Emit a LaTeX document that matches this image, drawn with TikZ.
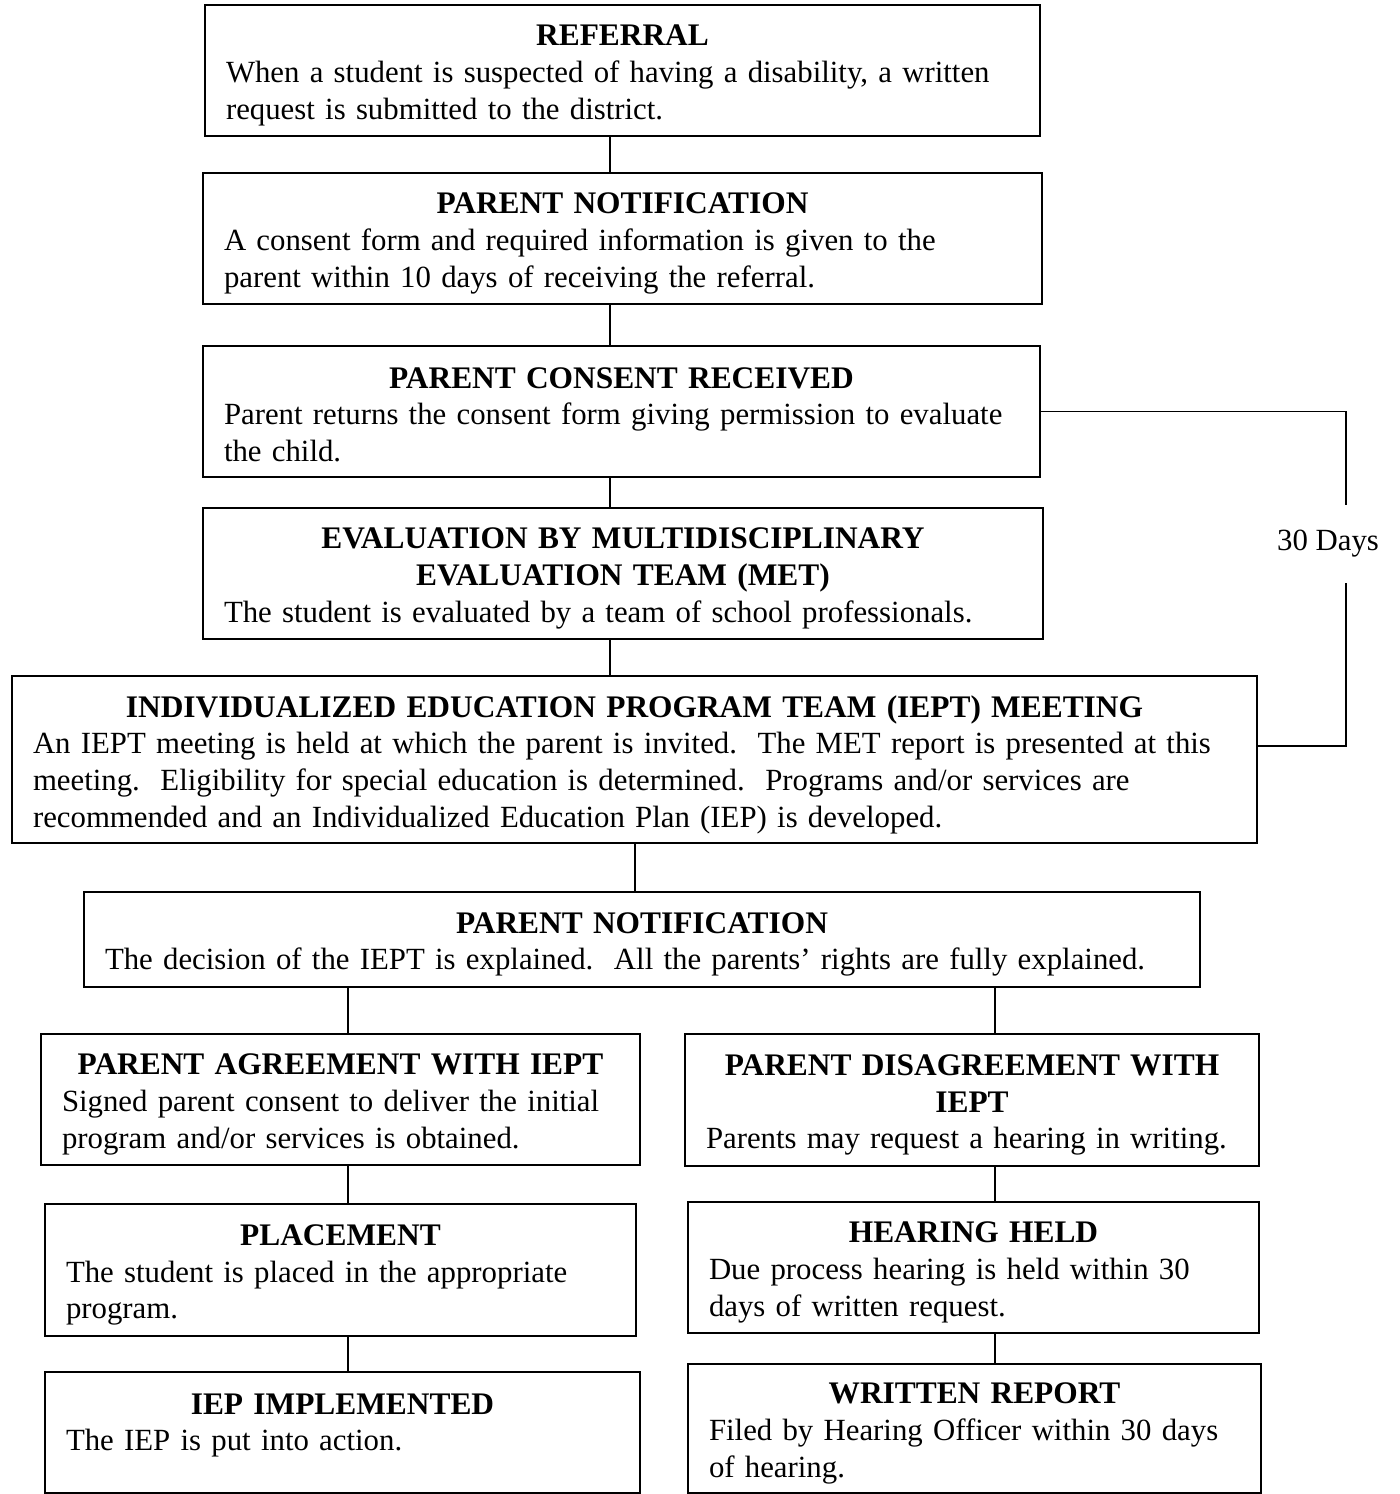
\documentclass[tikz,border=0pt]{standalone}
\usepackage{fontspec}
\setmainfont{Liberation Serif}
\frenchspacing
\newcommand\bx[3][-5pt]{\centering{\fontsize{15.7}{18.3}\selectfont\bfseries #2\par}\raggedright #3\par\vspace{#1}\hrule height 0pt}
\begin{document}
\begin{tikzpicture}[x=0.5pt,y=-0.5pt,
  box/.style={draw, line width=1pt, inner xsep=10.5pt, inner ysep=0pt,
    font=\fontsize{15.4}{18.3}\selectfont},
  conn/.style={line width=0.6pt},
  lbl/.style={font=\fontsize{15.4}{18.3}\selectfont, inner sep=0pt}]
\useasboundingbox (0,0) rectangle (1399,1494);

\node[box, minimum width=417.5pt, minimum height=65.5pt, text width=396.5pt] (ref) at (622.5,70.5)
  {\bx{REFERRAL}{When a student is suspected of having a disability, a written\\request is submitted to the district.}};
\node[box, minimum width=419.5pt, minimum height=65.5pt, text width=398.5pt] (pn1) at (622.5,238.5)
  {\bx{PARENT NOTIFICATION}{A consent form and required information is given to the\\parent within 10 days of receiving the referral.}};
\node[box, minimum width=418.5pt, minimum height=65.5pt, text width=397.5pt] (pcr) at (621.5,411.5)
  {\bx[-3pt]{PARENT CONSENT RECEIVED}{Parent returns the consent form giving permission to evaluate\\the child.}};
\node[box, minimum width=420pt, minimum height=65.5pt, text width=399pt] (eval) at (623,573.5)
  {\bx{EVALUATION BY MULTIDISCIPLINARY\\EVALUATION TEAM (MET)}{The student is evaluated by a team of school professionals.}};
\node[box, minimum width=622.5pt, minimum height=83.5pt, text width=601.5pt] (iept) at (634.5,759.5)
  {\bx{INDIVIDUALIZED EDUCATION PROGRAM TEAM (IEPT) MEETING}{An IEPT meeting is held at which the parent is invited.\ \ The MET report is presented at this\\meeting.\ \ Eligibility for special education is determined.\ \ Programs and/or services are\\recommended and an Individualized Education Plan (IEP) is developed.}};
\node[box, minimum width=558pt, minimum height=47.5pt, text width=537pt] (pn2) at (642,939.5)
  {\bx{PARENT NOTIFICATION}{The decision of the IEPT is explained.\ \ All the parents’ rights are fully explained.}};
\node[box, minimum width=299.5pt, minimum height=65.5pt, text width=278.5pt] (agree) at (340.5,1099.5)
  {\bx{PARENT AGREEMENT WITH IEPT}{Signed parent consent to deliver the initial\\program and/or services is obtained.}};
\node[box, minimum width=287pt, minimum height=66pt, text width=266pt] (disag) at (972,1100)
  {\bx{PARENT DISAGREEMENT WITH\\IEPT}{Parents may request a hearing in writing.}};
\node[box, minimum width=295.5pt, minimum height=66pt, text width=274.5pt] (place) at (340.5,1270)
  {\bx{PLACEMENT}{The student is placed in the appropriate\\program.}};
\node[box, minimum width=285.5pt, minimum height=65.5pt, text width=264.5pt] (hear) at (973.5,1267.5)
  {\bx{HEARING HELD}{Due process hearing is held within 30\\days of written request.}};
\node[box, minimum width=297.5pt, minimum height=60.5pt, text width=276.5pt] (iep) at (342.5,1432.5)
  {\bx[7pt]{IEP IMPLEMENTED}{The IEP is put into action.}};
\node[box, minimum width=286.5pt, minimum height=64.5pt, text width=265.5pt] (wr) at (974.5,1428.5)
  {\bx{WRITTEN REPORT}{Filed by Hearing Officer within 30 days\\of hearing.}};

\node[lbl, minimum height=39pt] (days) at (1328,544) {30 Days};

\coordinate (xa) at (610,0);
\coordinate (xb) at (635,0);
\coordinate (xl) at (348,0);
\coordinate (xr) at (995,0);
\coordinate (xk) at (1346,0);

\draw[conn] (ref.south -| xa) -- (pn1.north -| xa);
\draw[conn] (pn1.south -| xa) -- (pcr.north -| xa);
\draw[conn] (pcr.south -| xa) -- (eval.north -| xa);
\draw[conn] (eval.south -| xa) -- (iept.north -| xa);
\draw[conn] (iept.south -| xb) -- (pn2.north -| xb);
\draw[conn] (pn2.south -| xl) -- (agree.north -| xl);
\draw[conn] (pn2.south -| xr) -- (disag.north -| xr);
\draw[conn] (agree.south -| xl) -- (place.north -| xl);
\draw[conn] (place.south -| xl) -- (iep.north -| xl);
\draw[conn] (disag.south -| xr) -- (hear.north -| xr);
\draw[conn] (hear.south -| xr) -- (wr.north -| xr);

\draw[conn] (pcr.east) -| (days.north -| xk);
\draw[conn] (days.south -| xk) |- ([yshift=6.75pt]iept.east);
\end{tikzpicture}
\end{document}
